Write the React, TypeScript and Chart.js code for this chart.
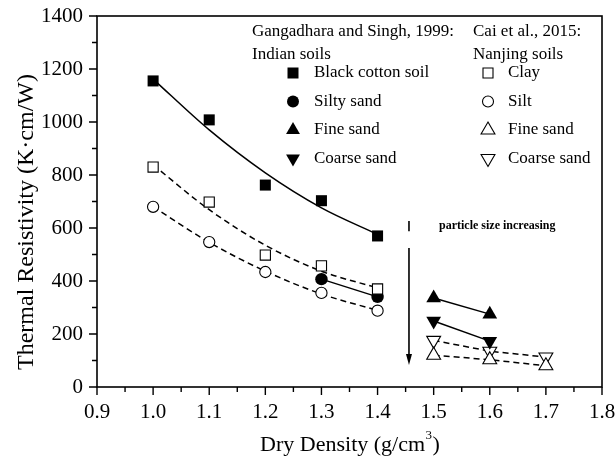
import React, { useEffect, useRef } from "react";
import { Chart, registerables } from "chart.js";

Chart.register(...registerables);

// ---- data ----
const densityIndian = [1.0, 1.1, 1.2, 1.3, 1.4];
const blackCotton = [1155, 1008, 762, 703, 570];
const blackCottonFit = [1162, 970, 808, 676, 576];
const clay = [830, 698, 498, 457, 370];
const clayFit = [838, 669, 535, 437, 374];
const silt = [680, 547, 434, 355, 288];
const siltFit = [680, 546, 437, 351, 289];

const densitySiltySand = [1.3, 1.4];
const siltySand = [407, 340];

const densitySandIndian = [1.5, 1.6];
const fineSandIndian = [336, 275];
const coarseSandIndian = [249, 173];

const densitySandNanjing = [1.5, 1.6, 1.7];
const fineSandNanjing = [120, 103, 80];
const coarseSandNanjing = [176, 135, 113];

const xTitle = "Dry Density (g/cm";
const xTitleSup = "3";
const yTitle = "Thermal Resistivity (K\u00b7cm/W)";
const indianHeader = ["Gangadhara and Singh, 1999:", "Indian soils"];
const nanjingHeader = ["Cai et al., 2015:", "Nanjing soils"];
const indianLabels = ["Black cotton soil", "Silty sand", "Fine sand", "Coarse sand"];
const nanjingLabels = ["Clay", "Silt", "Fine sand", "Coarse sand"];
const arrowText = "particle size increasing";
const arrowX = 1.456;
const arrowSegments = [
  [626, 558],
  [525, 83],
];

const SERIF = '"Liberation Serif", "Times New Roman", serif';

const pts = (xs: number[], ys: number[]) => xs.map((x, i) => ({ x, y: ys[i] }));

function drawMarker(ctx: CanvasRenderingContext2D, kind: string, filled: boolean, x: number, y: number) {
  ctx.save();
  ctx.beginPath();
  if (kind === "rect") {
    const s = filled ? 5.5 : 5;
    ctx.rect(x - s, y - s, 2 * s, 2 * s);
  } else if (kind === "circle") {
    ctx.arc(x, y, filled ? 6 : 5.5, 0, Math.PI * 2);
  } else if (kind === "triangle") {
    const r = 8;
    ctx.moveTo(x, y - r);
    ctx.lineTo(x + r * 0.866, y + r * 0.5);
    ctx.lineTo(x - r * 0.866, y + r * 0.5);
    ctx.closePath();
  } else {
    const r = 8;
    ctx.moveTo(x, y + r);
    ctx.lineTo(x + r * 0.866, y - r * 0.5);
    ctx.lineTo(x - r * 0.866, y - r * 0.5);
    ctx.closePath();
  }
  if (filled) {
    ctx.fillStyle = "#000";
    ctx.fill();
  } else {
    ctx.fillStyle = "#fff";
    ctx.fill();
    ctx.strokeStyle = "#000";
    ctx.lineWidth = 1.1;
    ctx.stroke();
  }
  ctx.restore();
}

const decor = {
  id: "decor",
  afterDraw(chart: any) {
    const ctx: CanvasRenderingContext2D = chart.ctx;
    const { left, right, top, bottom } = chart.chartArea;
    const xs = chart.scales.x;
    const ys = chart.scales.y;
    ctx.save();
    ctx.strokeStyle = "#000";
    ctx.fillStyle = "#000";

    // frame
    ctx.lineWidth = 1.6;
    ctx.strokeRect(left, top, right - left, bottom - top);

    // ticks
    ctx.lineWidth = 1.4;
    const xt = xs.ticks.map((t: any) => t.value);
    ctx.beginPath();
    xt.forEach((v: number, i: number) => {
      const px = xs.getPixelForValue(v);
      ctx.moveTo(px, bottom);
      ctx.lineTo(px, bottom + 8);
      if (i < xt.length - 1) {
        const m = xs.getPixelForValue((v + xt[i + 1]) / 2);
        ctx.moveTo(m, bottom);
        ctx.lineTo(m, bottom + 5);
      }
    });
    const yt = ys.ticks.map((t: any) => t.value);
    yt.forEach((v: number, i: number) => {
      const py = ys.getPixelForValue(v);
      ctx.moveTo(left, py);
      ctx.lineTo(left - 8, py);
      if (i < yt.length - 1) {
        const m = ys.getPixelForValue((v + yt[i + 1]) / 2);
        ctx.moveTo(left, m);
        ctx.lineTo(left - 5, m);
      }
    });
    ctx.stroke();

    // x title with superscript
    ctx.textBaseline = "middle";
    ctx.font = `22px ${SERIF}`;
    const w1 = ctx.measureText(xTitle).width;
    ctx.font = `13px ${SERIF}`;
    const w2 = ctx.measureText(xTitleSup).width;
    ctx.font = `22px ${SERIF}`;
    const w3 = ctx.measureText(")").width;
    const cx = (left + right) / 2;
    let sx = cx - (w1 + w2 + w3) / 2;
    const ty = 445;
    ctx.textAlign = "left";
    ctx.fillText(xTitle, sx, ty);
    ctx.font = `13px ${SERIF}`;
    ctx.fillText(xTitleSup, sx + w1 + 0.5, ty - 9);
    ctx.font = `22px ${SERIF}`;
    ctx.fillText(")", sx + w1 + w2 + 1, ty);

    // y title
    ctx.save();
    ctx.translate(27, 222);
    ctx.rotate(-Math.PI / 2);
    ctx.textAlign = "center";
    ctx.font = `24px ${SERIF}`;
    ctx.fillText(yTitle, 0, 0);
    ctx.restore();

    // legend
    ctx.font = `17px ${SERIF}`;
    ctx.textAlign = "left";
    ctx.fillText(indianHeader[0], 252, 32);
    ctx.fillText(indianHeader[1], 252, 55);
    ctx.fillText(nanjingHeader[0], 473, 32);
    ctx.fillText(nanjingHeader[1], 473, 55);
    const kinds = ["rect", "circle", "triangle", "down"];
    indianLabels.forEach((lab, i) => {
      const y = 73 + i * 28.5;
      drawMarker(ctx, kinds[i], true, 293, y);
      ctx.fillStyle = "#000";
      ctx.fillText(lab, 314, y);
    });
    nanjingLabels.forEach((lab, i) => {
      const y = 73 + i * 28.5;
      drawMarker(ctx, kinds[i], false, 488, y);
      ctx.fillStyle = "#000";
      ctx.fillText(lab, 508, y);
    });

    // arrow annotation
    const ax = xs.getPixelForValue(arrowX);
    ctx.lineWidth = 1.6;
    ctx.beginPath();
    arrowSegments.forEach(([a, b]) => {
      ctx.moveTo(ax, ys.getPixelForValue(a));
      ctx.lineTo(ax, ys.getPixelForValue(b) - 8);
    });
    ctx.stroke();
    const tip = ys.getPixelForValue(arrowSegments[1][1]);
    ctx.beginPath();
    ctx.moveTo(ax, tip);
    ctx.lineTo(ax - 3, tip - 11);
    ctx.lineTo(ax + 3, tip - 11);
    ctx.closePath();
    ctx.fill();

    ctx.font = `bold 12px ${SERIF}`;
    ctx.fillText(arrowText, 439, 226);

    ctx.restore();
  },
};

export default function App() {
  const ref = useRef<HTMLCanvasElement | null>(null);
  useEffect(() => {
    if (!ref.current) return;
    const marker = (label: string, xs: number[], ys: number[], style: string, filled: boolean, radius: number, rotation = 0) => ({
      label,
      data: pts(xs, ys),
      showLine: false,
      pointStyle: style,
      pointRadius: radius,
      pointRotation: rotation,
      pointBackgroundColor: filled ? "#000" : "#fff",
      pointBorderColor: "#000",
      pointBorderWidth: filled ? 0 : 1.1,
      order: 0,
    });
    const line = (label: string, xs: number[], ys: number[], dashed: boolean, smooth: boolean) => ({
      label,
      data: pts(xs, ys),
      showLine: true,
      borderColor: "#000",
      borderWidth: 1.5,
      borderDash: dashed ? [6, 4] : [],
      pointRadius: 0,
      cubicInterpolationMode: smooth ? "monotone" : "default",
      tension: 0,
      fill: false,
      order: 1,
    });
    const chart = new Chart(ref.current, {
      type: "scatter",
      data: {
        datasets: [
          marker("Black cotton soil", densityIndian, blackCotton, "rect", true, 7.8),
          marker("Clay", densityIndian, clay, "rect", false, 7.2),
          marker("Silt", densityIndian, silt, "circle", false, 5.6),
          marker("Silty sand", densitySiltySand, siltySand, "circle", true, 6.2),
          marker("Fine sand (Indian)", densitySandIndian, fineSandIndian, "triangle", true, 8.5),
          marker("Coarse sand (Indian)", densitySandIndian, coarseSandIndian, "triangle", true, 8.5, 180),
          marker("Fine sand (Nanjing)", densitySandNanjing, fineSandNanjing, "triangle", false, 8),
          marker("Coarse sand (Nanjing)", densitySandNanjing, coarseSandNanjing, "triangle", false, 8, 180),
          line("Black cotton fit", densityIndian, blackCottonFit, false, true),
          line("Clay fit", densityIndian, clayFit, true, true),
          line("Silt fit", densityIndian, siltFit, true, true),
          line("Silty sand line", densitySiltySand, siltySand, false, false),
          line("Fine sand line", densitySandIndian, fineSandIndian, false, false),
          line("Coarse sand line", densitySandIndian, coarseSandIndian, false, false),
          line("Nanjing fine line", densitySandNanjing, fineSandNanjing, true, false),
          line("Nanjing coarse line", densitySandNanjing, coarseSandNanjing, true, false),
        ] as any,
      },
      options: {
        animation: false,
        responsive: false,
        layout: { padding: { left: 0, top: 16, right: 14, bottom: 0 } },
        plugins: { legend: { display: false }, tooltip: { enabled: false } },
        scales: {
          x: {
            type: "linear",
            min: 0.9,
            max: 1.8,
            grid: { display: false, drawTicks: false },
            border: { display: false },
            ticks: {
              stepSize: 0.1,
              padding: 13,
              color: "#000",
              font: { family: SERIF, size: 21 },
              callback: (v: any) => Number(v).toFixed(1),
            },
            afterFit: (s: any) => {
              s.height = 70;
              s.paddingLeft = 0;
              s.paddingRight = 0;
            },
          },
          y: {
            min: 0,
            max: 1400,
            grid: { display: false, drawTicks: false },
            border: { display: false },
            ticks: {
              stepSize: 200,
              padding: 14,
              color: "#000",
              font: { family: SERIF, size: 21 },
              callback: (v: any) => String(Math.round(Number(v))),
            },
            afterFit: (s: any) => {
              s.width = 97;
              s.paddingTop = 0;
              s.paddingBottom = 0;
            },
          },
        },
      } as any,
      plugins: [decor],
    });
    return () => chart.destroy();
  }, []);
  return (
    <div style={{ position: "absolute", left: 0, top: 0, width: 616, height: 457, background: "#fff" }}>
      <canvas ref={ref} width={616} height={457} />
    </div>
  );
}
